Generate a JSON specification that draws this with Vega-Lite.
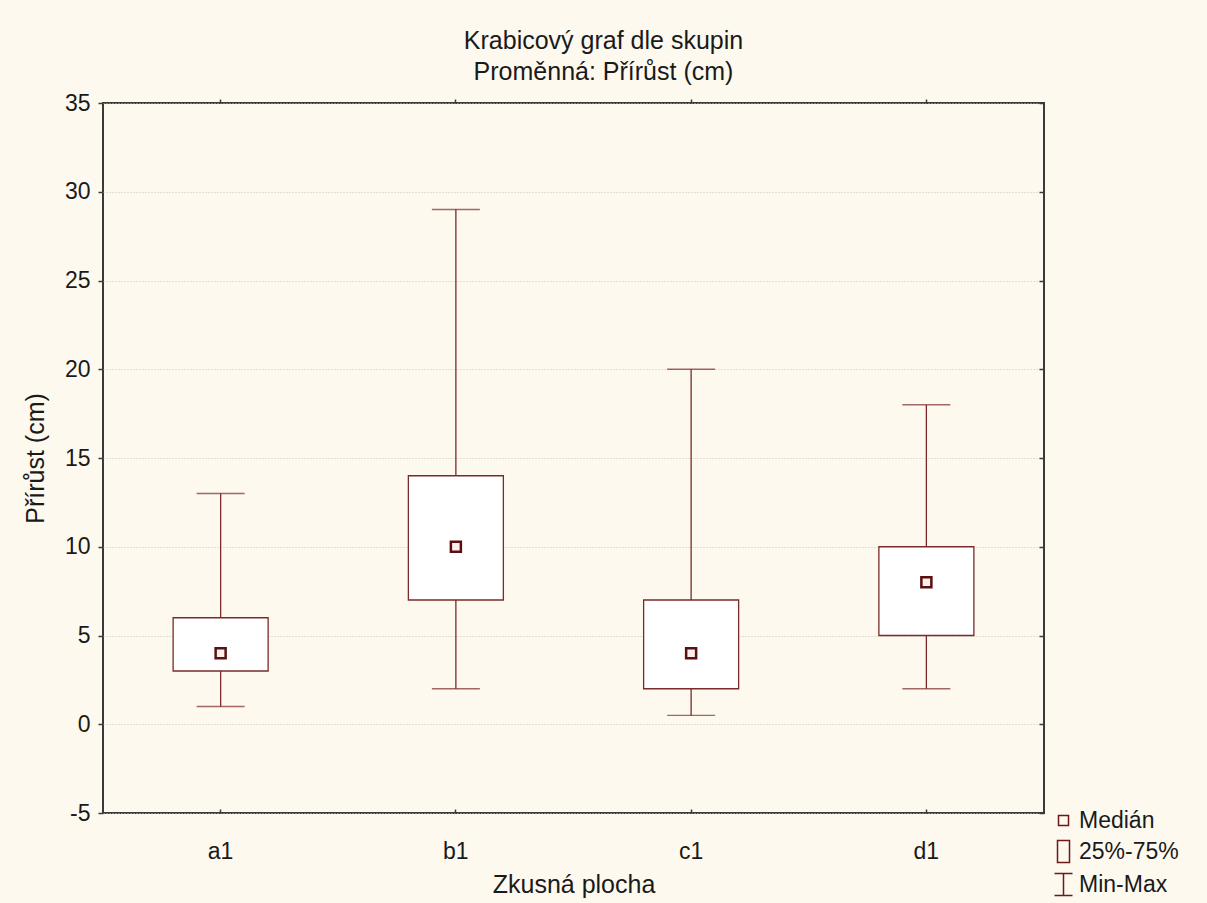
{
  "$schema": "https://vega.github.io/schema/vega-lite/v6.json",
  "width": 941,
  "height": 710,
  "autosize": {"type": "none"},
  "padding": {"left": 103, "top": 103, "right": 163, "bottom": 90},
  "background": "#fdf9ef",
  "title": {
    "text": "Krabicový graf dle skupin",
    "subtitle": "Proměnná: Přírůst (cm)",
    "anchor": "middle",
    "frame": "group",
    "dx": 30,
    "offset": 7,
    "fontSize": 25,
    "fontWeight": "normal",
    "subtitleFontSize": 25,
    "subtitlePadding": 6,
    "color": "#1a1a1a",
    "subtitleColor": "#1a1a1a",
    "font": "Liberation Sans",
    "subtitleFont": "Liberation Sans"
  },
  "datasets": {
    "boxes": [
      {"plocha": "a1", "min": 1, "q1": 3, "med": 4, "q3": 6, "max": 13},
      {"plocha": "b1", "min": 2, "q1": 7, "med": 10, "q3": 14, "max": 29},
      {"plocha": "c1", "min": 0.5, "q1": 2, "med": 4, "q3": 7, "max": 20},
      {"plocha": "d1", "min": 2, "q1": 5, "med": 8, "q3": 10, "max": 18}
    ],
    "legend": [
      {"item": "Medián"},
      {"item": "25%-75%"},
      {"item": "Min-Max"}
    ]
  },
  "resolve": {"axis": {"x": "independent", "y": "independent"}},
  "layer": [
    {
      "data": {"name": "boxes"},
      "mark": {"type": "rule", "color": "#7a2a2a", "strokeWidth": 1.3},
      "encoding": {
        "x": {
          "field": "plocha", "type": "nominal",
          "scale": {"paddingInner": 0, "paddingOuter": 0},
          "axis": {
            "orient": "bottom", "title": "Zkusná plocha", "labelAngle": 0,
            "tickSize": -4, "labelPadding": 31, "titlePadding": 9,
            "domain": false, "grid": false
          }
        },
        "y": {
          "field": "min", "type": "quantitative",
          "scale": {"domain": [-5, 35], "nice": false, "zero": false},
          "axis": {
            "orient": "left", "title": "Přírůst (cm)",
            "values": [-5, 0, 5, 10, 15, 20, 25, 30, 35],
            "labelExpr": "replace(datum.label, '−', '-')",
            "tickSize": 5, "labelPadding": 8, "titlePadding": 16,
            "domain": false, "grid": true
          }
        },
        "y2": {"field": "max"}
      }
    },
    {
      "data": {"name": "boxes"},
      "mark": {"type": "tick", "color": "#7a2a2a", "thickness": 1.3, "size": 48},
      "encoding": {
        "x": {
          "field": "plocha", "type": "nominal",
          "axis": {"orient": "top", "labels": false, "title": null, "tickSize": 4, "domain": false, "grid": false}
        },
        "y": {
          "field": "min", "type": "quantitative",
          "axis": {"orient": "right", "labels": false, "title": null, "tickSize": -5, "domain": false, "grid": false, "values": [-5, 0, 5, 10, 15, 20, 25, 30, 35]}
        }
      }
    },
    {
      "data": {"name": "boxes"},
      "mark": {"type": "tick", "color": "#7a2a2a", "thickness": 1.3, "size": 48},
      "encoding": {
        "x": {"field": "plocha", "type": "nominal", "axis": null},
        "y": {"field": "max", "type": "quantitative", "axis": null}
      }
    },
    {
      "data": {"name": "boxes"},
      "mark": {"type": "bar", "width": 95, "fill": "white", "stroke": "#7a2a2a", "strokeWidth": 1.3},
      "encoding": {
        "x": {"field": "plocha", "type": "nominal", "axis": null},
        "y": {"field": "q1", "type": "quantitative", "axis": null},
        "y2": {"field": "q3"}
      }
    },
    {
      "data": {"name": "boxes"},
      "mark": {"type": "point", "shape": "square", "size": 100, "filled": false, "fill": "#fdeeee", "stroke": "#5a1010", "strokeWidth": 2.5, "opacity": 1},
      "encoding": {
        "x": {"field": "plocha", "type": "nominal", "axis": null},
        "y": {"field": "med", "type": "quantitative", "axis": null}
      }
    },
    {
      "data": {"name": "legend"},
      "mark": {"type": "point", "filled": false, "opacity": 0},
      "encoding": {
        "shape": {
          "field": "item", "type": "nominal",
          "scale": {
            "domain": ["Medián", "25%-75%", "Min-Max"],
            "range": [
              "M-0.5,-0.5H0.5V0.5H-0.5Z",
              "M-0.6,-1.1H0.6V1.1H-0.6Z",
              "M-0.9,-1.1H0.9M0,-1.1V1.1M-0.9,1.1H0.9"
            ]
          },
          "legend": {
            "orient": "none", "legendX": 949, "legendY": 706,
            "title": null, "padding": 0,
            "labelFontSize": 23, "labelColor": "#1a1a1a", "labelFont": "Liberation Sans",
            "symbolSize": 400, "symbolStrokeColor": "#6b1a1a", "symbolStrokeWidth": 1.5,
            "symbolFillColor": "transparent", "symbolOpacity": 1,
            "labelOffset": 4, "rowPadding": 4
          }
        }
      }
    }
  ],
  "config": {
    "font": "Liberation Sans",
    "view": {"fill": "white", "stroke": "#3a3a3a", "strokeWidth": 2},
    "axis": {
      "labelFontSize": 23,
      "titleFontSize": 25,
      "titleFontWeight": "normal",
      "labelColor": "#1a1a1a",
      "titleColor": "#1a1a1a",
      "tickColor": "#3a3a3a",
      "tickWidth": 1.5,
      "gridColor": "#c4c4c4",
      "gridDash": [1, 2],
      "gridWidth": 1
    }
  }
}
